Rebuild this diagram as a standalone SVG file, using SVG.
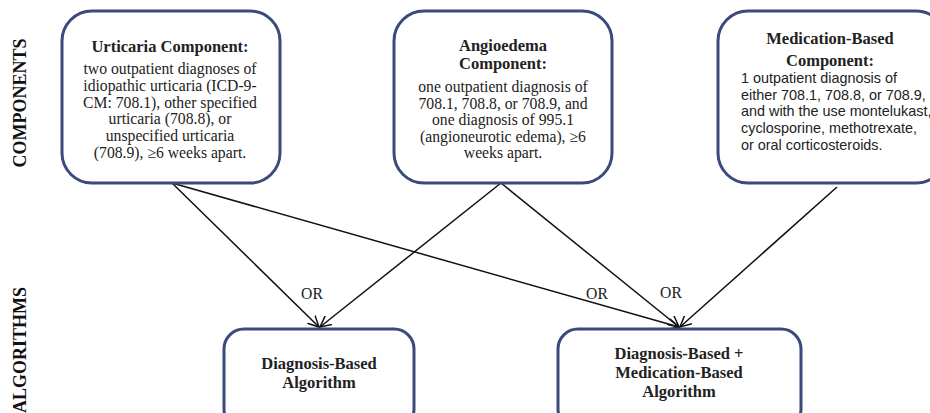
<svg xmlns="http://www.w3.org/2000/svg" width="930" height="413" viewBox="0 0 930 413">
<style>
.box{fill:#fff;stroke:#3b4a7c;stroke-width:3}
.t{font-family:"Liberation Serif","DejaVu Serif",serif;font-size:15.7px;fill:#222;text-anchor:middle}
.b{font-weight:bold;font-size:16.5px}
.s{font-family:"Liberation Sans",Arial,sans-serif;font-size:14.4px;fill:#222}
.side{font-family:"Liberation Serif",serif;font-weight:bold;font-size:18px;fill:#111;text-anchor:middle}
.c{stroke:#111;stroke-width:1.5;fill:none}
</style>
<defs>
<marker id="arr" viewBox="0 0 12 12" refX="11" refY="6" markerWidth="12" markerHeight="12" markerUnits="userSpaceOnUse" orient="auto">
<polyline points="0,0.5 11,6 0,11.5" fill="none" stroke="#111" stroke-width="1.5"/>
</marker>
</defs>
<rect width="930" height="413" fill="#fff"/>
<text class="side" transform="translate(26,103) rotate(-90)">COMPONENTS</text>
<text class="side" transform="translate(26,350) rotate(-90)">ALGORITHMS</text>
<g id="connectors">
<line class="c" x1="172" y1="183" x2="319" y2="327" marker-end="url(#arr)"/>
<line class="c" x1="172" y1="183" x2="679" y2="327" marker-end="url(#arr)"/>
<line class="c" x1="501" y1="183" x2="320" y2="327" marker-end="url(#arr)"/>
<line class="c" x1="501" y1="183" x2="679" y2="327" marker-end="url(#arr)"/>
<line class="c" x1="837" y1="187" x2="680" y2="327" marker-end="url(#arr)"/>
<text class="t" x="312" y="299">OR</text>
<text class="t" x="597" y="299">OR</text>
<text class="t" x="671" y="298">OR</text>
</g>
<g id="urticaria">
<rect class="box" x="62" y="11" width="218" height="172" rx="30"/>
<text class="t b" x="170" y="52">Urticaria Component:</text>
<text class="t" x="170" y="74">two outpatient diagnoses of</text>
<text class="t" x="170" y="91">idiopathic urticaria (ICD-9-</text>
<text class="t" x="170" y="108">CM: 708.1), other specified</text>
<text class="t" x="170" y="124">urticaria (708.8), or</text>
<text class="t" x="170" y="141">unspecified urticaria</text>
<text class="t" x="170" y="158">(708.9), ≥6 weeks apart.</text>
</g>
<g id="angioedema">
<rect class="box" x="394" y="11" width="218" height="172" rx="30"/>
<text class="t b" x="503" y="51">Angioedema</text>
<text class="t b" x="503" y="69">Component:</text>
<text class="t" x="503" y="92">one outpatient diagnosis of</text>
<text class="t" x="503" y="109">708.1, 708.8, or 708.9, and</text>
<text class="t" x="503" y="125">one diagnosis of 995.1</text>
<text class="t" x="503" y="142">(angioneurotic edema), ≥6</text>
<text class="t" x="503" y="158">weeks apart.</text>
</g>
<g id="medication">
<rect class="box" x="718" y="11" width="228" height="172" rx="30"/>
<text class="t b" x="830" y="44">Medication-Based</text>
<text class="t b" x="830" y="66">Component:</text>
<text class="s" x="741" y="83">1 outpatient diagnosis of</text>
<text class="s" x="741" y="100">either 708.1, 708.8, or 708.9,</text>
<text class="s" x="741" y="116">and with the use montelukast,</text>
<text class="s" x="741" y="133">cyclosporine, methotrexate,</text>
<text class="s" x="741" y="150">or oral corticosteroids.</text>
</g>
<g id="diagnosis-algorithm">
<rect class="box" x="224" y="329" width="190" height="100" rx="20"/>
<text class="t b" x="319" y="369">Diagnosis-Based</text>
<text class="t b" x="319" y="388">Algorithm</text>
</g>
<g id="combined-algorithm">
<rect class="box" x="558" y="329" width="243" height="100" rx="20"/>
<text class="t b" x="679" y="359">Diagnosis-Based +</text>
<text class="t b" x="679" y="378">Medication-Based</text>
<text class="t b" x="679" y="397">Algorithm</text>
</g>
</svg>
